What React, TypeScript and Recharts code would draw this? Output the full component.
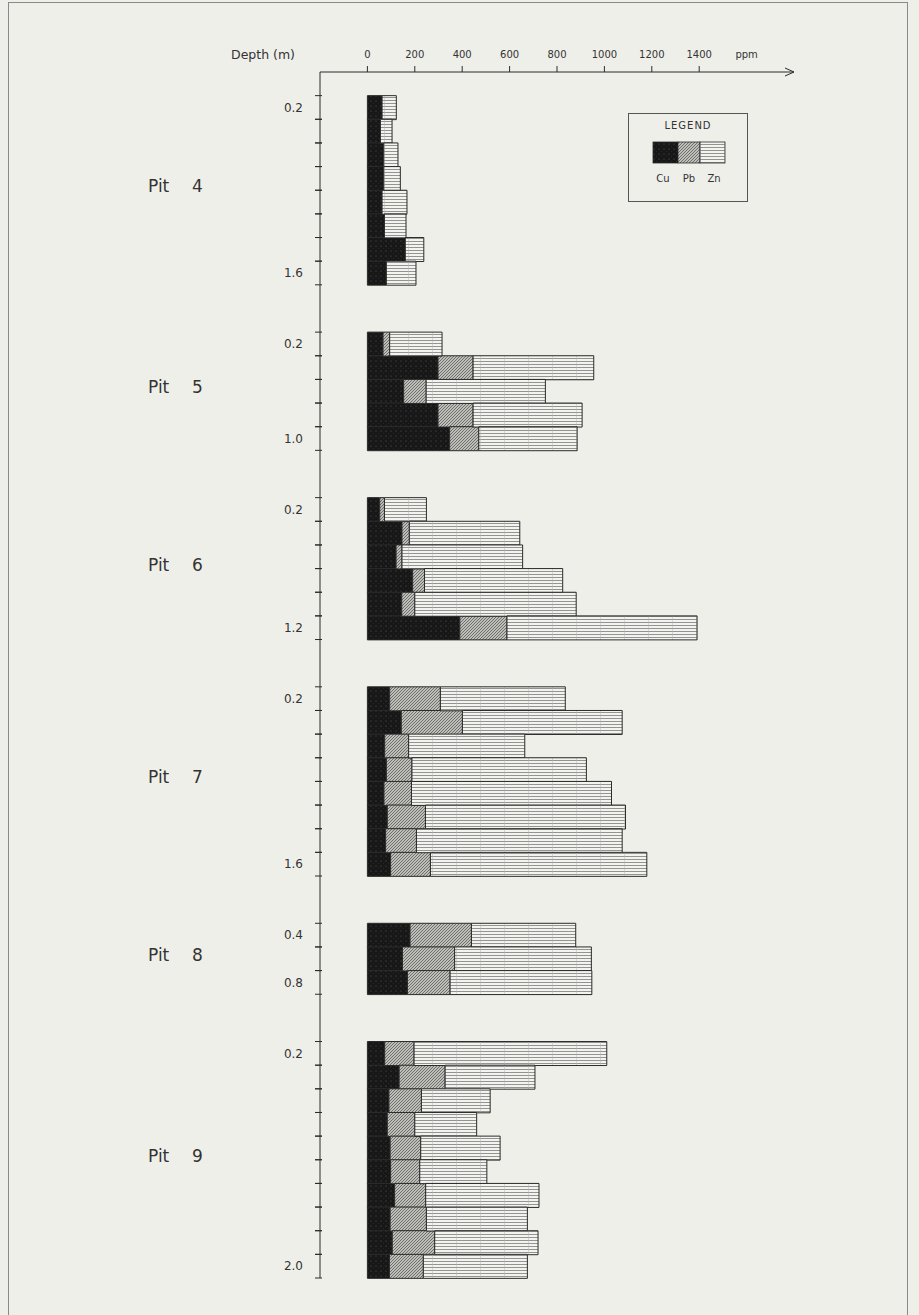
import React from 'react';
import { BarChart, Bar, XAxis, YAxis, Legend, Label } from 'recharts';

// page + plot geometry
const W = 919;
const H = 1315;
const margin = { top: 42, right: 125, bottom: 37, left: 120 };
const xAxisH = 30;
const yAxisW = 200;
const plotH = H - margin.top - margin.bottom - xAxisH;

const ink = '#2b2b2b';
const font = '"DejaVu Sans", sans-serif';

// x axis (ppm)
const xTicks = [0, 200, 400, 600, 800, 1000, 1200, 1400];
const unitTick = 1600;
const arrowTick = 1800;

// Pit 4
const pit4Depth = [0.2, 0.4, 0.6, 0.8, 1.0, 1.2, 1.4, 1.6];
const pit4Cu = [62, 55, 69, 69, 62, 72, 160, 80];
const pit4Pb = [0, 0, 0, 0, 0, 0, 0, 0];
const pit4Zn = [60, 49, 60, 70, 105, 91, 78, 125];

// Pit 5
const pit5Depth = [0.2, 0.4, 0.6, 0.8, 1.0];
const pit5Cu = [66, 298, 153, 298, 347];
const pit5Pb = [28, 148, 95, 148, 123];
const pit5Zn = [221, 509, 503, 460, 415];

// Pit 6
const pit6Depth = [0.2, 0.4, 0.6, 0.8, 1.0, 1.2];
const pit6Cu = [52, 146, 121, 191, 145, 390];
const pit6Pb = [20, 31, 25, 50, 55, 199];
const pit6Zn = [177, 466, 509, 583, 681, 802];

// Pit 7
const pit7Depth = [0.2, 0.4, 0.6, 0.8, 1.0, 1.2, 1.4, 1.6];
const pit7Cu = [94, 143, 73, 80, 70, 84, 77, 98];
const pit7Pb = [214, 258, 101, 108, 116, 161, 130, 168];
const pit7Zn = [527, 674, 490, 736, 844, 844, 868, 913];

// Pit 8
const pit8Depth = [0.4, 0.6, 0.8];
const pit8Cu = [180, 148, 169];
const pit8Pb = [259, 220, 180];
const pit8Zn = [440, 577, 598];

// Pit 9
const pit9Depth = [0.2, 0.4, 0.6, 0.8, 1.0, 1.2, 1.4, 1.6, 1.8, 2.0];
const pit9Cu = [73, 134, 91, 84, 96, 98, 115, 96, 105, 93];
const pit9Pb = [124, 194, 137, 116, 129, 123, 131, 153, 179, 143];
const pit9Zn = [813, 379, 290, 261, 335, 283, 478, 426, 436, 439];

const pits = [
  { name: '4', depth: pit4Depth, cu: pit4Cu, pb: pit4Pb, zn: pit4Zn },
  { name: '5', depth: pit5Depth, cu: pit5Cu, pb: pit5Pb, zn: pit5Zn },
  { name: '6', depth: pit6Depth, cu: pit6Cu, pb: pit6Pb, zn: pit6Zn },
  { name: '7', depth: pit7Depth, cu: pit7Cu, pb: pit7Pb, zn: pit7Zn },
  { name: '8', depth: pit8Depth, cu: pit8Cu, pb: pit8Pb, zn: pit8Zn },
  { name: '9', depth: pit9Depth, cu: pit9Cu, pb: pit9Pb, zn: pit9Zn },
];

// one row per depth interval, two empty rows between pits
const rows: any[] = [{ key: 'top' }];
pits.forEach((p, pi) => {
  if (pi > 0) {
    rows.push({ key: `gap${pi}a` });
    rows.push({ key: `gap${pi}b` });
  }
  p.depth.forEach((d, i) => {
    rows.push({
      key: `${p.name}-${d}`,
      cu: p.cu[i],
      pb: p.pb[i],
      zn: p.zn[i],
      depth: d,
      pit: p.name,
      idx: i,
      n: p.depth.length,
    });
  });
});
const rowByKey: Record<string, any> = {};
rows.forEach((r) => (rowByKey[r.key] = r));

const DepthTick = (props: any) => {
  const { x, y, payload } = props;
  const row = rowByKey[payload.value];
  if (!row || row.depth == null) return <g />;
  const band = plotH / rows.length;
  const top = y - band / 2;
  const bot = y + band / 2;
  const first = row.idx === 0;
  const last = row.idx === row.n - 1;
  const midIdx = Math.floor(row.n / 2);
  const pitY = row.n % 2 === 0 ? top : y;
  return (
    <g>
      <line x1={x - 5} x2={x + 2} y1={top} y2={top} stroke={ink} strokeWidth={1} />
      <line x1={x - 5} x2={x + 2} y1={bot} y2={bot} stroke={ink} strokeWidth={1} />
      {(first || last) && (
        <text x={x - 17} y={y} dy="0.35em" textAnchor="end" fontSize={12} fontFamily={font} fill="#333">
          {row.depth.toFixed(1)}
        </text>
      )}
      {row.idx === midIdx && (
        <g fontSize={17} fontFamily={font} fill="#333">
          <text x={x - 172} y={pitY - 4} dy="0.35em">Pit</text>
          <text x={x - 128} y={pitY - 4} dy="0.35em">{row.pit}</text>
        </g>
      )}
    </g>
  );
};

const PpmTick = (props: any) => {
  const { x, y, payload } = props;
  const v = payload.value;
  if (v === arrowTick) {
    return (
      <path d={`M${x - 9},${y - 4} L${x},${y} L${x - 9},${y + 4}`} fill="none" stroke={ink} strokeWidth={1} />
    );
  }
  if (v === unitTick) {
    return (
      <text x={x} y={y - 14} textAnchor="middle" fontSize={10} fontFamily={font} fill="#333">
        ppm
      </text>
    );
  }
  return (
    <g>
      <line x1={x} x2={x} y1={y - 6} y2={y} stroke={ink} strokeWidth={1} />
      <text x={x} y={y - 14} textAnchor="middle" fontSize={10} fontFamily={font} fill="#333">
        {v}
      </text>
    </g>
  );
};

const LegendBox = (props: any) => {
  const items = props.payload || [];
  const segX = [25, 50, 72, 97];
  const labelX = [35, 61, 86];
  return (
    <svg width={120} height={89} style={{ display: 'block' }}>
      <rect x={0.5} y={0.5} width={119} height={88} fill="none" stroke="#555" strokeWidth={1} />
      <text x={60} y={16} textAnchor="middle" fontSize={10} letterSpacing={1} fontFamily={font} fill="#333">
        LEGEND
      </text>
      {items.map((it: any, i: number) => (
        <g key={it.value}>
          <rect
            x={segX[i]}
            y={29}
            width={segX[i + 1] - segX[i]}
            height={21}
            fill={it.payload?.fill || it.color}
            stroke={ink}
            strokeWidth={0.8}
          />
          <text x={labelX[i]} y={69} textAnchor="middle" fontSize={10} fontFamily={font} fill="#333">
            {it.value}
          </text>
        </g>
      ))}
    </svg>
  );
};

const App = () => {
  return (
    <div
      style={{
        position: 'absolute',
        left: 0,
        top: 0,
        width: W,
        height: H,
        background: '#efefea',
        overflow: 'hidden',
      }}
    >
      {/* scanned page frame */}
      <div
        style={{
          position: 'absolute',
          left: 8,
          top: 2,
          width: 898,
          height: 1340,
          border: '1.5px solid #8a8a8a',
        }}
      />
      <BarChart
        width={W}
        height={H}
        data={rows}
        layout="vertical"
        margin={margin}
        barCategoryGap={0}
        style={{ position: 'absolute', left: 0, top: 0 }}
      >
        <defs>
          <pattern id="cuPat" width={5} height={5} patternUnits="userSpaceOnUse">
            <rect width={5} height={5} fill="#171717" />
            <circle cx={1} cy={1} r={0.55} fill="#5c5c5c" />
            <circle cx={3.5} cy={3.2} r={0.4} fill="#444" />
          </pattern>
          <pattern id="pbPat" width={3} height={3} patternUnits="userSpaceOnUse">
            <rect width={3} height={3} fill="#bebeb9" />
            <path d="M0,3 L3,0 M-1,1 L1,-1 M2,4 L4,2" stroke="#4e4e4e" strokeWidth={0.7} />
          </pattern>
          <pattern id="znPat" width={24} height={3} patternUnits="userSpaceOnUse">
            <rect width={24} height={3} fill="#f3f3ef" />
            <line x1={0} x2={24} y1={1.5} y2={1.5} stroke="#6a6a6a" strokeWidth={0.7} />
            <line x1={0.3} x2={0.3} y1={0} y2={3} stroke="#b4b4b4" strokeWidth={0.6} />
          </pattern>
        </defs>
        <XAxis
          type="number"
          orientation="top"
          domain={[-200, arrowTick]}
          ticks={[...xTicks, unitTick, arrowTick]}
          interval={0}
          height={xAxisH}
          tickSize={0}
          tickMargin={0}
          tickLine={false}
          axisLine={{ stroke: ink, strokeWidth: 1 }}
          tick={(p: any) => <PpmTick {...p} />}
        />
        <YAxis
          type="category"
          dataKey="key"
          width={yAxisW}
          interval={0}
          tickSize={0}
          tickMargin={0}
          tickLine={false}
          axisLine={{ stroke: ink, strokeWidth: 1 }}
          tick={(p: any) => <DepthTick {...p} />}
        >
          <Label
            content={(lp: any) => {
              const vb = lp.viewBox || { x: margin.left, y: margin.top + xAxisH, width: yAxisW };
              return (
                <text x={vb.x + vb.width - 25} y={vb.y - 13} textAnchor="end" fontSize={12.5} fontFamily={font} fill="#333">
                  Depth (m)
                </text>
              );
            }}
          />
        </YAxis>
        <Legend
          layout="horizontal"
          verticalAlign="middle"
          align="center"
          content={(lp: any) => <LegendBox {...lp} />}
          wrapperStyle={{ position: 'absolute', left: 628, top: 113, width: 120, height: 89 }}
        />
        <Bar dataKey="cu" name="Cu" stackId="m" fill="url(#cuPat)" stroke={ink} strokeWidth={1} isAnimationActive={false} />
        <Bar dataKey="pb" name="Pb" stackId="m" fill="url(#pbPat)" stroke={ink} strokeWidth={1} isAnimationActive={false} />
        <Bar dataKey="zn" name="Zn" stackId="m" fill="url(#znPat)" stroke={ink} strokeWidth={1} isAnimationActive={false} />
      </BarChart>
    </div>
  );
};

export default App;
